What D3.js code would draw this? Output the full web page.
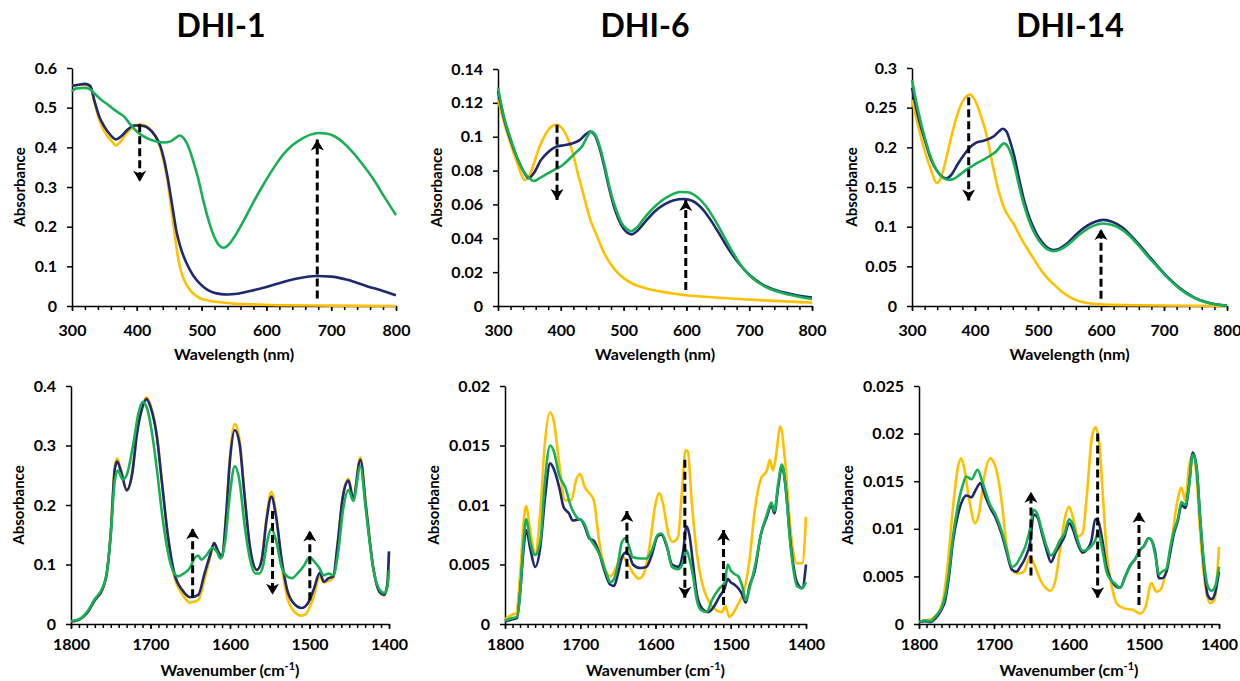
<!DOCTYPE html>
<html>
<head>
<meta charset="utf-8">
<script src="https://cdn.jsdelivr.net/npm/d3@7"></script>
<style>
  body { margin: 0; background: #fff; }
  svg text { font-family: Lato, "Open Sans", sans-serif; font-weight: bold; fill: #000; }
</style>
</head>
<body>
<div id="chart"></div>
<script>
// colours of the three spectra (yellow, navy, green)
const seriesColors = ['#FFC000', '#1F2A6E', '#19AF55'];

const titles = ['DHI-1', 'DHI-6', 'DHI-14'];

// UV-vis, values as [wavelength nm, absorbance]
const dhi1UvYellow = [[300,0.556],[310,0.557],[320,0.558],[328,0.553],[335,0.51],[342,0.47],[350,0.44],[360,0.418],[368,0.405],[375,0.415],[385,0.437],[395,0.452],[404,0.458],[412,0.455],[420,0.447],[428,0.43],[436,0.4],[442,0.36],[447,0.32],[452,0.26],[457,0.2],[462,0.14],[467,0.095],[472,0.07],[478,0.05],[485,0.035],[497,0.02],[510,0.014],[525,0.01],[550,0.006],[580,0.004],[620,0.002],[700,0.001],[800,0.0]];
const dhi1UvNavy = [[300,0.555],[310,0.558],[320,0.56],[328,0.555],[335,0.515],[342,0.478],[350,0.452],[360,0.43],[368,0.42],[376,0.428],[386,0.445],[396,0.455],[404,0.455],[412,0.453],[420,0.445],[428,0.43],[436,0.405],[442,0.37],[448,0.32],[455,0.25],[461,0.19],[468,0.145],[477,0.107],[487,0.077],[497,0.057],[508,0.042],[518,0.034],[530,0.03],[540,0.029],[555,0.031],[575,0.038],[600,0.048],[625,0.06],[650,0.07],[677,0.0755],[700,0.074],[725,0.066],[755,0.05],[780,0.038],[800,0.027]];
const dhi1UvGreen = [[300,0.54],[305,0.548],[312,0.549],[320,0.55],[328,0.546],[335,0.535],[345,0.52],[355,0.508],[365,0.495],[372,0.487],[380,0.478],[390,0.458],[400,0.44],[410,0.428],[420,0.42],[432,0.414],[442,0.412],[452,0.415],[460,0.424],[466,0.43],[472,0.424],[480,0.4],[488,0.36],[495,0.32],[502,0.27],[510,0.22],[518,0.18],[526,0.155],[534,0.147],[542,0.155],[552,0.178],[565,0.215],[580,0.262],[595,0.305],[610,0.345],[625,0.38],[640,0.405],[655,0.422],[668,0.432],[680,0.436],[692,0.435],[705,0.428],[718,0.413],[732,0.39],[748,0.358],[765,0.32],[782,0.275],[800,0.229]];

const dhi6UvYellow = [[300,0.122],[310,0.108],[320,0.096],[330,0.085],[338,0.077],[343,0.0745],[350,0.077],[358,0.085],[366,0.094],[375,0.101],[385,0.106],[393,0.107],[402,0.105],[410,0.1],[418,0.092],[426,0.08],[436,0.066],[446,0.052],[458,0.041],[468,0.032],[479,0.025],[495,0.018],[515,0.013],[535,0.0105],[560,0.0085],[596,0.0065],[640,0.0052],[690,0.004],[740,0.003],[800,0.002]];
const dhi6UvNavy = [[300,0.127],[310,0.11],[320,0.098],[330,0.088],[340,0.08],[349,0.0755],[358,0.079],[368,0.086],[380,0.091],[392,0.094],[405,0.095],[418,0.096],[430,0.098],[440,0.1015],[447,0.103],[454,0.101],[462,0.093],[470,0.081],[478,0.068],[487,0.056],[496,0.048],[505,0.0435],[513,0.0423],[522,0.0445],[535,0.05],[550,0.056],[565,0.06],[580,0.0625],[596,0.0632],[610,0.062],[625,0.0575],[640,0.05],[655,0.041],[670,0.032],[685,0.0245],[700,0.0185],[720,0.013],[745,0.009],[770,0.0068],[800,0.005]];
const dhi6UvGreen = [[300,0.129],[310,0.111],[320,0.099],[330,0.088],[340,0.08],[350,0.0755],[357,0.0738],[366,0.0755],[378,0.078],[390,0.0805],[402,0.083],[414,0.087],[425,0.091],[435,0.095],[442,0.1],[448,0.103],[455,0.101],[463,0.093],[471,0.081],[479,0.068],[488,0.057],[497,0.049],[505,0.0455],[512,0.0442],[520,0.046],[532,0.0515],[545,0.057],[560,0.062],[575,0.0655],[590,0.0673],[602,0.0672],[615,0.065],[630,0.0595],[645,0.051],[660,0.041],[675,0.031],[690,0.0225],[705,0.0165],[725,0.0115],[750,0.008],[775,0.0058],[800,0.0042]];

const dhi14UvYellow = [[300,0.26],[310,0.226],[320,0.196],[330,0.172],[339,0.155],[346,0.162],[354,0.185],[362,0.212],[370,0.236],[378,0.254],[386,0.264],[392,0.2665],[398,0.262],[405,0.25],[412,0.233],[418,0.217],[425,0.19],[432,0.163],[439,0.141],[447,0.122],[454,0.112],[461,0.104],[470,0.09],[480,0.076],[492,0.061],[505,0.045],[515,0.035],[524,0.028],[535,0.02],[545,0.014],[556,0.009],[570,0.005],[585,0.003],[598,0.002],[650,0.001],[800,0.0]];
const dhi14UvNavy = [[300,0.275],[310,0.238],[320,0.21],[330,0.185],[340,0.17],[348,0.163],[355,0.161],[363,0.166],[372,0.178],[382,0.19],[392,0.2],[402,0.206],[412,0.208],[420,0.21],[430,0.214],[438,0.22],[444,0.2235],[450,0.22],[456,0.207],[462,0.19],[470,0.16],[478,0.133],[487,0.11],[497,0.092],[507,0.08],[516,0.073],[524,0.0705],[533,0.072],[545,0.078],[558,0.088],[572,0.098],[587,0.105],[604,0.1086],[618,0.106],[632,0.1],[646,0.09],[660,0.078],[675,0.064],[690,0.05],[705,0.037],[720,0.026],[735,0.017],[750,0.01],[765,0.0055],[780,0.0025],[800,0.0005]];
const dhi14UvGreen = [[300,0.285],[310,0.245],[320,0.213],[330,0.187],[340,0.17],[350,0.161],[358,0.159],[366,0.16],[375,0.165],[385,0.171],[395,0.176],[405,0.181],[415,0.185],[425,0.19],[435,0.196],[441,0.202],[446,0.205],[452,0.201],[458,0.19],[464,0.172],[471,0.148],[479,0.124],[488,0.103],[497,0.088],[507,0.077],[516,0.071],[525,0.069],[535,0.071],[547,0.077],[560,0.086],[574,0.095],[588,0.101],[603,0.104],[618,0.102],[632,0.097],[646,0.088],[660,0.076],[675,0.062],[690,0.049],[705,0.036],[720,0.025],[735,0.016],[750,0.0095],[765,0.005],[780,0.0022],[800,0.0005]];

// IR, values as [wavenumber cm-1, absorbance]
const dhi1IrYellow = [[1800,0.004],[1790,0.007],[1780,0.018],[1770,0.04],[1760,0.06],[1755,0.085],[1750,0.155],[1745,0.263],[1742,0.278],[1737,0.258],[1730,0.224],[1723,0.254],[1717,0.322],[1710,0.368],[1705,0.381],[1700,0.368],[1692,0.318],[1685,0.232],[1678,0.145],[1670,0.08],[1660,0.05],[1650,0.036],[1640,0.04],[1632,0.075],[1625,0.112],[1620,0.135],[1615,0.122],[1610,0.113],[1605,0.182],[1600,0.282],[1594,0.336],[1588,0.31],[1582,0.222],[1575,0.13],[1566,0.09],[1560,0.11],[1554,0.18],[1548,0.222],[1542,0.185],[1535,0.1],[1528,0.045],[1520,0.022],[1510,0.014],[1505,0.016],[1502,0.022],[1495,0.045],[1487,0.08],[1482,0.07],[1476,0.072],[1470,0.078],[1465,0.13],[1458,0.216],[1451,0.244],[1445,0.212],[1436,0.28],[1429,0.2],[1420,0.096],[1412,0.054],[1406,0.048],[1402,0.066],[1400,0.12]];
const dhi1IrNavy = [[1800,0.004],[1790,0.007],[1780,0.018],[1770,0.04],[1760,0.06],[1755,0.085],[1750,0.152],[1745,0.259],[1742,0.273],[1737,0.256],[1730,0.225],[1723,0.253],[1717,0.32],[1710,0.365],[1705,0.378],[1700,0.365],[1692,0.315],[1685,0.23],[1678,0.147],[1670,0.085],[1660,0.057],[1650,0.045],[1640,0.049],[1632,0.085],[1625,0.116],[1620,0.136],[1615,0.122],[1610,0.113],[1605,0.18],[1600,0.276],[1594,0.326],[1588,0.303],[1582,0.22],[1575,0.13],[1566,0.091],[1560,0.108],[1554,0.175],[1548,0.214],[1542,0.18],[1535,0.108],[1528,0.057],[1520,0.035],[1510,0.027],[1502,0.035],[1495,0.057],[1487,0.086],[1482,0.071],[1476,0.077],[1470,0.08],[1465,0.13],[1458,0.214],[1451,0.241],[1445,0.211],[1436,0.276],[1429,0.197],[1420,0.096],[1412,0.054],[1406,0.049],[1402,0.068],[1400,0.122]];
const dhi1IrGreen = [[1800,0.005],[1790,0.008],[1780,0.02],[1770,0.042],[1760,0.062],[1755,0.085],[1750,0.15],[1745,0.24],[1741,0.258],[1735,0.243],[1730,0.25],[1722,0.3],[1715,0.355],[1710,0.373],[1705,0.365],[1698,0.32],[1692,0.26],[1685,0.18],[1678,0.12],[1672,0.09],[1665,0.08],[1658,0.085],[1650,0.095],[1645,0.11],[1640,0.115],[1636,0.108],[1630,0.115],[1622,0.128],[1616,0.12],[1612,0.11],[1606,0.14],[1600,0.22],[1594,0.265],[1588,0.24],[1582,0.17],[1575,0.11],[1568,0.085],[1563,0.085],[1558,0.1],[1553,0.14],[1548,0.16],[1542,0.14],[1535,0.095],[1528,0.08],[1522,0.077],[1515,0.085],[1507,0.098],[1500,0.112],[1494,0.105],[1488,0.095],[1482,0.082],[1476,0.085],[1470,0.082],[1464,0.12],[1458,0.19],[1451,0.225],[1445,0.207],[1436,0.265],[1429,0.19],[1420,0.095],[1412,0.058],[1406,0.052],[1402,0.062],[1400,0.09]];

const dhi6IrYellow = [[1800,0.0004],[1790,0.0008],[1785,0.0009],[1780,0.004],[1775,0.0087],[1772,0.0099],[1766,0.0076],[1760,0.0059],[1753,0.0096],[1747,0.0152],[1740,0.0178],[1735,0.017],[1728,0.0135],[1720,0.0104],[1712,0.0104],[1705,0.0122],[1700,0.0126],[1694,0.0115],[1688,0.011],[1682,0.0104],[1675,0.007],[1668,0.0048],[1660,0.004],[1652,0.0048],[1645,0.0057],[1638,0.0052],[1630,0.0043],[1622,0.0038],[1615,0.0043],[1608,0.0065],[1600,0.0101],[1595,0.011],[1590,0.0101],[1583,0.0076],[1577,0.0069],[1570,0.0073],[1565,0.011],[1560,0.0146],[1557,0.0145],[1552,0.0104],[1545,0.0059],[1538,0.0034],[1530,0.002],[1520,0.0012],[1512,0.001],[1507,0.0015],[1502,0.0006],[1497,0.0009],[1490,0.0017],[1482,0.0029],[1475,0.0054],[1468,0.0096],[1460,0.0122],[1452,0.0129],[1448,0.0138],[1444,0.0129],[1440,0.0141],[1434,0.0166],[1428,0.0138],[1420,0.0076],[1412,0.0051],[1405,0.0051],[1400,0.009]];
const dhi6IrNavy = [[1800,0.0002],[1790,0.0004],[1784,0.0005],[1780,0.0026],[1775,0.0065],[1772,0.0079],[1766,0.0062],[1760,0.0048],[1753,0.0065],[1747,0.0105],[1740,0.0135],[1735,0.013],[1728,0.0115],[1722,0.0098],[1715,0.0093],[1710,0.0087],[1700,0.0088],[1694,0.0082],[1688,0.0072],[1682,0.007],[1675,0.006],[1668,0.0045],[1660,0.0033],[1655,0.0032],[1650,0.0042],[1645,0.0055],[1640,0.006],[1635,0.0058],[1630,0.005],[1620,0.0047],[1612,0.0048],[1605,0.0058],[1597,0.0074],[1592,0.0075],[1585,0.0065],[1578,0.005],[1570,0.0048],[1563,0.0062],[1559,0.0082],[1555,0.0075],[1550,0.005],[1545,0.0025],[1538,0.0013],[1530,0.001],[1522,0.0015],[1515,0.0023],[1508,0.003],[1504,0.0038],[1500,0.0035],[1495,0.0033],[1490,0.003],[1485,0.0025],[1480,0.0018],[1475,0.0032],[1468,0.0045],[1460,0.0075],[1452,0.009],[1446,0.01],[1442,0.0093],[1437,0.0115],[1432,0.0133],[1428,0.012],[1420,0.0065],[1412,0.0035],[1405,0.003],[1400,0.005]];
const dhi6IrGreen = [[1800,0.0003],[1790,0.0005],[1784,0.0006],[1780,0.0025],[1775,0.0072],[1772,0.0088],[1766,0.0068],[1760,0.0058],[1753,0.007],[1747,0.012],[1740,0.015],[1735,0.0145],[1728,0.0125],[1720,0.0115],[1712,0.0098],[1705,0.009],[1695,0.0085],[1688,0.0073],[1680,0.0065],[1672,0.0055],[1665,0.0042],[1660,0.0035],[1655,0.0038],[1650,0.005],[1645,0.0068],[1640,0.0072],[1635,0.0065],[1630,0.0056],[1620,0.0055],[1612,0.0055],[1605,0.0062],[1597,0.0075],[1592,0.0076],[1585,0.0066],[1578,0.0048],[1570,0.0046],[1563,0.0052],[1559,0.0062],[1555,0.0055],[1550,0.004],[1545,0.002],[1540,0.0012],[1532,0.001],[1525,0.002],[1515,0.003],[1508,0.0035],[1504,0.005],[1500,0.0045],[1495,0.0042],[1490,0.004],[1484,0.003],[1480,0.002],[1475,0.003],[1468,0.0048],[1460,0.0075],[1452,0.0092],[1446,0.0102],[1442,0.0095],[1437,0.0118],[1432,0.0134],[1428,0.012],[1420,0.0062],[1412,0.0032],[1405,0.003],[1400,0.0035]];

const dhi14IrYellow = [[1800,0.0002],[1790,0.0004],[1782,0.0006],[1775,0.0011],[1768,0.0025],[1762,0.006],[1755,0.012],[1748,0.0165],[1744,0.0174],[1740,0.0165],[1733,0.013],[1725,0.0106],[1720,0.0116],[1713,0.0155],[1705,0.0174],[1698,0.0165],[1690,0.013],[1683,0.0081],[1676,0.0057],[1668,0.0053],[1660,0.0055],[1652,0.0071],[1645,0.006],[1638,0.0046],[1630,0.0037],[1625,0.0035],[1618,0.0046],[1612,0.0078],[1605,0.0113],[1600,0.0123],[1595,0.0113],[1588,0.0092],[1582,0.0095],[1576,0.0137],[1570,0.0193],[1565,0.0207],[1560,0.0193],[1555,0.0137],[1550,0.0078],[1542,0.0036],[1535,0.002],[1525,0.0016],[1515,0.0015],[1505,0.0011],[1498,0.0018],[1490,0.0043],[1484,0.0034],[1478,0.0036],[1470,0.0057],[1463,0.0088],[1456,0.0127],[1450,0.0143],[1445,0.013],[1440,0.0165],[1435,0.0178],[1430,0.0155],[1425,0.0095],[1418,0.0039],[1412,0.0022],[1406,0.0025],[1400,0.0081]];
const dhi14IrNavy = [[1800,0.0002],[1792,0.0003],[1785,0.0002],[1778,0.0006],[1770,0.0015],[1765,0.0025],[1760,0.005],[1755,0.0085],[1748,0.0115],[1742,0.013],[1737,0.0135],[1730,0.0133],[1725,0.014],[1718,0.0148],[1712,0.0135],[1705,0.0122],[1698,0.0112],[1690,0.0095],[1683,0.0075],[1676,0.0057],[1670,0.0055],[1665,0.006],[1658,0.007],[1652,0.0085],[1647,0.0115],[1642,0.0112],[1636,0.0095],[1630,0.0078],[1624,0.0065],[1618,0.0075],[1612,0.0083],[1606,0.0092],[1600,0.0106],[1595,0.01],[1590,0.0088],[1582,0.0075],[1576,0.0078],[1570,0.0088],[1565,0.011],[1561,0.0108],[1556,0.009],[1550,0.006],[1545,0.0048],[1538,0.004],[1532,0.0038],[1525,0.005],[1518,0.0062],[1512,0.0068],[1505,0.0078],[1500,0.0082],[1494,0.009],[1490,0.0088],[1485,0.0075],[1480,0.0048],[1476,0.0048],[1470,0.0055],[1465,0.0075],[1460,0.0095],[1455,0.0108],[1450,0.0125],[1445,0.0122],[1440,0.0145],[1435,0.018],[1430,0.0165],[1425,0.011],[1420,0.006],[1415,0.003],[1410,0.0026],[1405,0.0033],[1400,0.0055]];
const dhi14IrGreen = [[1800,0.0002],[1792,0.0004],[1785,0.0003],[1778,0.0008],[1770,0.0017],[1765,0.003],[1760,0.0055],[1755,0.009],[1748,0.0125],[1742,0.0145],[1737,0.0155],[1730,0.0152],[1722,0.0162],[1715,0.0148],[1705,0.0125],[1698,0.0115],[1690,0.0098],[1683,0.0078],[1676,0.006],[1670,0.0063],[1665,0.007],[1658,0.0082],[1652,0.01],[1647,0.012],[1642,0.0115],[1636,0.0098],[1630,0.0082],[1624,0.0072],[1618,0.0078],[1612,0.0088],[1606,0.0095],[1600,0.011],[1595,0.0105],[1590,0.0092],[1582,0.0077],[1576,0.0078],[1570,0.0082],[1565,0.0088],[1561,0.0097],[1556,0.008],[1550,0.0055],[1545,0.0047],[1538,0.0042],[1532,0.0038],[1525,0.005],[1518,0.0062],[1512,0.0068],[1505,0.0078],[1500,0.0082],[1494,0.009],[1490,0.0088],[1485,0.0072],[1480,0.0052],[1476,0.0055],[1470,0.0058],[1465,0.008],[1460,0.0098],[1455,0.011],[1450,0.0128],[1445,0.0125],[1440,0.0145],[1435,0.0178],[1430,0.0165],[1425,0.011],[1420,0.0065],[1415,0.004],[1410,0.0035],[1405,0.004],[1400,0.006]];

// dashed arrows: [x, start absorbance, tip absorbance]
const dhi1UvArrows = [[404.5,0.458,0.313],[678.5,0.019,0.42]];
const dhi6UvArrows = [[394,0.107,0.0626],[599,0.0094,0.0626]];
const dhi14UvArrows = [[390,0.263,0.133],[600,0.009,0.097]];
const dhi1IrArrows = [[1647,0.045,0.161],[1546.5,0.19,0.049],[1499.6,0.04,0.157]];
const dhi6IrArrows = [[1638,0.0038,0.0095],[1561,0.0138,0.0022],[1509.6,0.0016,0.0079]];
const dhi14IrArrows = [[1650.7,0.0051,0.0139],[1561.8,0.02,0.0027],[1506.7,0.002,0.0118]];

// tick values
const uvTicks = [300, 400, 500, 600, 700, 800];
const irTicks = [1800, 1700, 1600, 1500, 1400];
const dhi1UvYTicks = [0, 0.1, 0.2, 0.3, 0.4, 0.5, 0.6];
const dhi6UvYTicks = [0, 0.02, 0.04, 0.06, 0.08, 0.1, 0.12, 0.14];
const dhi14UvYTicks = [0, 0.05, 0.1, 0.15, 0.2, 0.25, 0.3];
const dhi1IrYTicks = [0, 0.1, 0.2, 0.3, 0.4];
const dhi6IrYTicks = [0, 0.005, 0.01, 0.015, 0.02];
const dhi14IrYTicks = [0, 0.005, 0.01, 0.015, 0.02, 0.025];

const svg = d3.select('#chart').append('svg')
  .attr('width', 1240)
  .attr('height', 681);

const defs = svg.append('defs');
defs.append('marker')
  .attr('id', 'head')
  .attr('markerUnits', 'userSpaceOnUse')
  .attr('viewBox', '-12 -8 14 16')
  .attr('markerWidth', 14)
  .attr('markerHeight', 16)
  .attr('refX', 0)
  .attr('refY', 0)
  .attr('orient', 'auto')
  .append('path')
  .attr('d', 'M0,0 L-11,-6.5 L-8,0 L-11,6.5 Z')
  .attr('fill', '#000');

const panels = [
  { box: [72, 396, 68, 306], xd: [300, 800], xt: uvTicks, minor: 20, yt: dhi1UvYTicks, yl: 20,
    series: [dhi1UvYellow, dhi1UvNavy, dhi1UvGreen], arrows: dhi1UvArrows, ir: false },
  { box: [498, 812, 69, 306], xd: [300, 800], xt: uvTicks, minor: 20, yt: dhi6UvYTicks, yl: 437,
    series: [dhi6UvYellow, dhi6UvNavy, dhi6UvGreen], arrows: dhi6UvArrows, ir: false },
  { box: [912, 1227, 68, 306], xd: [300, 800], xt: uvTicks, minor: 20, yt: dhi14UvYTicks, yl: 852,
    series: [dhi14UvYellow, dhi14UvNavy, dhi14UvGreen], arrows: dhi14UvArrows, ir: false },
  { box: [71, 389, 386, 624], xd: [1800, 1400], xt: irTicks, minor: 10, yt: dhi1IrYTicks, yl: 19,
    series: [dhi1IrYellow, dhi1IrNavy, dhi1IrGreen], arrows: dhi1IrArrows, ir: true },
  { box: [505, 806, 386, 624], xd: [1800, 1400], xt: irTicks, minor: 10, yt: dhi6IrYTicks, yl: 434,
    series: [dhi6IrYellow, dhi6IrNavy, dhi6IrGreen], arrows: dhi6IrArrows, ir: true },
  { box: [919, 1219, 386, 624], xd: [1800, 1400], xt: irTicks, minor: 10, yt: dhi14IrYTicks, yl: 848,
    series: [dhi14IrYellow, dhi14IrNavy, dhi14IrGreen], arrows: dhi14IrArrows, ir: true }
];

const fmt = v => String(+v.toFixed(3));

panels.forEach(p => {
  const [x0, x1, y0, y1] = p.box;
  const x = d3.scaleLinear().domain(p.xd).range([x0, x1]);
  const y = d3.scaleLinear().domain([0, d3.max(p.yt)]).range([y1, y0]);
  const g = svg.append('g');

  // minor x ticks
  const lo = Math.min(...p.xd), hi = Math.max(...p.xd);
  const minorTicks = d3.range(lo, hi + 1, p.minor);
  g.append('g')
    .attr('transform', `translate(0,${y1})`)
    .call(d3.axisBottom(x).tickValues(minorTicks).tickSize(4).tickSizeOuter(0).tickFormat(''))
    .call(a => a.select('.domain').remove())
    .selectAll('line').attr('stroke', '#000').attr('stroke-width', 1.5);

  g.append('g')
    .attr('transform', `translate(0,${y1})`)
    .call(d3.axisBottom(x).tickValues(p.xt).tickSize(5).tickSizeOuter(0)
      .tickPadding(p.ir ? 10 : 14).tickFormat(d => String(d)))
    .call(a => a.select('.domain').attr('stroke', '#000').attr('stroke-width', 1.5))
    .call(a => a.selectAll('line').attr('stroke', '#000').attr('stroke-width', 1.5))
    .selectAll('text').style('font-size', '16px');

  g.append('g')
    .attr('transform', `translate(${x0},0)`)
    .call(d3.axisLeft(y).tickValues(p.yt).tickSize(5).tickSizeOuter(0).tickPadding(10).tickFormat(fmt))
    .call(a => a.select('.domain').attr('stroke', '#000').attr('stroke-width', 1.5))
    .call(a => a.selectAll('line').attr('stroke', '#000').attr('stroke-width', 1.5))
    .selectAll('text').style('font-size', '16px');

  // axis titles
  g.append('text')
    .attr('transform', `translate(${p.yl},${(y0 + y1) / 2}) rotate(-90)`)
    .attr('text-anchor', 'middle')
    .attr('dy', '0.35em')
    .style('font-size', '15px')
    .text('Absorbance');

  const xl = g.append('text')
    .attr('x', (x0 + x1) / 2)
    .attr('y', p.ir ? 676 : 360)
    .attr('text-anchor', 'middle')
    .style('font-size', '16px');
  if (p.ir) {
    xl.append('tspan').text('Wavenumber (cm');
    xl.append('tspan').attr('dy', -6).style('font-size', '11px').text('-1');
    xl.append('tspan').attr('dy', 6).text(')');
  } else {
    xl.text('Wavelength (nm)');
  }

  const line = d3.line()
    .x(d => x(d[0]))
    .y(d => y(d[1]))
    .curve(d3.curveMonotoneX);

  g.selectAll('path.spec')
    .data(p.series)
    .join('path')
    .attr('class', 'spec')
    .attr('fill', 'none')
    .attr('stroke', (d, i) => seriesColors[i])
    .attr('stroke-width', 2.6)
    .attr('stroke-linejoin', 'round')
    .attr('d', line);

  g.selectAll('line.arrow')
    .data(p.arrows)
    .join('line')
    .attr('class', 'arrow')
    .attr('x1', d => x(d[0]))
    .attr('x2', d => x(d[0]))
    .attr('y1', d => y(d[1]))
    .attr('y2', d => y(d[2]))
    .attr('stroke', '#000')
    .attr('stroke-width', 3)
    .attr('stroke-dasharray', '8,4')
    .attr('marker-end', 'url(#head)');
});

const titleX = [221, 645, 1070];
svg.selectAll('text.title')
  .data(titles)
  .join('text')
  .attr('class', 'title')
  .attr('x', (d, i) => titleX[i])
  .attr('y', 37)
  .attr('text-anchor', 'middle')
  .style('font-size', '32px')
  .text(d => d);
</script>
</body>
</html>
